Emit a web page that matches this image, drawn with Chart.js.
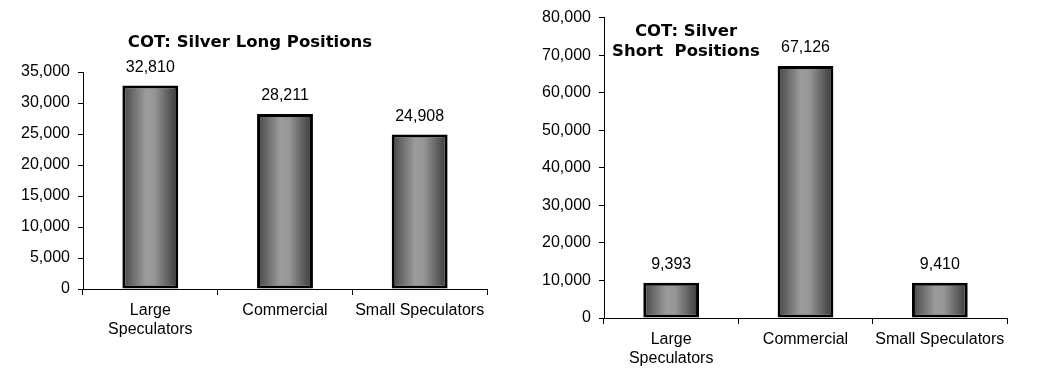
<!DOCTYPE html>
<html>
<head>
<meta charset="utf-8">
<script src="https://cdn.jsdelivr.net/npm/chart.js@4"></script>
<style>
  html, body { margin: 0; padding: 0; background: #fff; }
  body { width: 1050px; height: 381px; position: relative; overflow: hidden; }
  canvas { position: absolute; top: 0; }
  #longChart { left: 0; }
  #shortChart { left: 525px; }
</style>
</head>
<body>
<canvas id="longChart" width="520" height="381"></canvas>
<canvas id="shortChart" width="525" height="381"></canvas>
<script>
// ---- data ----
const categories = [['Large', 'Speculators'], 'Commercial', 'Small Speculators'];
const longValues = [32810, 28211, 24908];
const shortValues = [9393, 67126, 9410];
const longTitle = ['COT: Silver Long Positions'];
const shortTitle = ['COT: Silver', 'Short  Positions'];
const longAxisMax = 35000, longAxisStep = 5000;
const shortAxisMax = 80000, shortAxisStep = 10000;

const TICK_FONT = { family: '"Liberation Sans", Arial, sans-serif', size: 16, lineHeight: 1.2 };
const BAR_PCT = 0.415;
const fmt = v => Number(v).toLocaleString('en-US');

function barGradient(ctx) {
  const chart = ctx.chart;
  const xs = chart.scales && chart.scales.x;
  if (!xs || !chart.chartArea) return '#888';
  const n = chart.data.labels.length;
  const cx = xs.getPixelForValue(ctx.dataIndex);
  const w = (xs.width / n) * BAR_PCT;
  const g = chart.ctx.createLinearGradient(cx - w / 2, 0, cx + w / 2, 0);
  g.addColorStop(0, '#404040');
  g.addColorStop(0.1, '#5a5a5a');
  g.addColorStop(0.42, '#9c9c9c');
  g.addColorStop(0.58, '#959595');
  g.addColorStop(1, '#363636');
  return g;
}

const valueLabels = {
  id: 'valueLabels',
  afterDatasetsDraw(chart) {
    const c = chart.ctx;
    const meta = chart.getDatasetMeta(0);
    const vals = chart.data.datasets[0].data;
    c.save();
    c.font = `${TICK_FONT.size}px ${TICK_FONT.family}`;
    c.fillStyle = '#000';
    c.textAlign = 'center';
    c.textBaseline = 'middle';
    meta.data.forEach((el, i) => c.fillText(fmt(vals[i]), el.x, el.y - 18));
    c.restore();
  }
};

const titleText = {
  id: 'titleText',
  afterDraw(chart, args, opts) {
    const c = chart.ctx;
    c.save();
    c.font = 'bold 16.5px "DejaVu Sans", Verdana, sans-serif';
    c.fillStyle = '#000';
    c.textAlign = 'center';
    c.textBaseline = 'middle';
    opts.lines.forEach((t, i) => c.fillText(t, opts.x, opts.y + i * opts.lineHeight));
    c.restore();
  }
};

function makeChart(id, values, maxV, step, pad, yWidth, xHeight, title) {
  return new Chart(document.getElementById(id), {
    type: 'bar',
    data: {
      labels: categories,
      datasets: [{
        data: values,
        backgroundColor: barGradient,
        borderColor: '#000',
        borderWidth: 3,
        borderSkipped: false,
        categoryPercentage: 1.0,
        barPercentage: BAR_PCT
      }]
    },
    options: {
      responsive: false,
      animation: false,
      devicePixelRatio: 1,
      layout: { padding: pad },
      plugins: {
        legend: { display: false },
        tooltip: { enabled: false },
        title: { display: false },
        titleText: title
      },
      scales: {
        x: {
          offset: true,
          grid: { offset: true, drawOnChartArea: false, drawTicks: true, tickLength: 6, color: '#000', lineWidth: 1 },
          border: { display: true, color: '#000', width: 1 },
          ticks: { color: '#000', font: TICK_FONT, padding: 6, maxRotation: 0, autoSkip: false },
          afterFit(s) { s.height = xHeight; }
        },
        y: {
          min: 0, max: maxV,
          grid: { drawOnChartArea: false, drawTicks: true, tickLength: 5, color: '#000', lineWidth: 1 },
          border: { display: true, color: '#000', width: 1 },
          ticks: { stepSize: step, color: '#000', font: TICK_FONT, padding: 8, callback: v => fmt(v) },
          afterFit(s) { s.width = yWidth; }
        }
      }
    },
    plugins: [valueLabels, titleText]
  });
}

makeChart('longChart', longValues, longAxisMax, longAxisStep,
  { left: 0, right: 33, top: 72, bottom: 0 }, 83, 92,
  { lines: longTitle, x: 250, y: 43, lineHeight: 20 });

makeChart('shortChart', shortValues, shortAxisMax, shortAxisStep,
  { left: 0, right: 43, top: 13, bottom: 0 }, 79, 63,
  { lines: shortTitle, x: 161, y: 32, lineHeight: 20 });
</script>
</body>
</html>
